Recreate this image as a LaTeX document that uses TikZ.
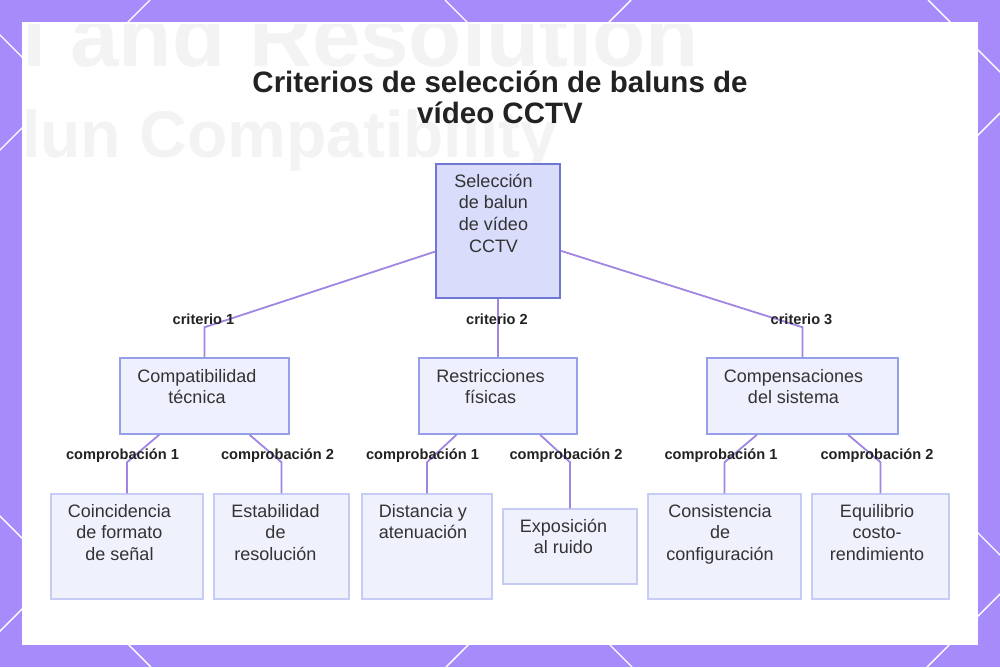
\documentclass[tikz,border=0pt]{standalone}
\usepackage{fontspec}
\setmainfont{Liberation Sans}
\usetikzlibrary{calc}
\definecolor{bgpurple}{RGB}{167,139,250}
\definecolor{rootfill}{RGB}{217,220,251}
\definecolor{rootdraw}{RGB}{112,118,212}
\definecolor{midfill}{RGB}{238,240,253}
\definecolor{middraw}{RGB}{150,160,232}
\definecolor{leaffill}{RGB}{239,241,253}
\definecolor{leafdraw}{RGB}{198,204,246}
\definecolor{edgecol}{RGB}{160,134,226}
\definecolor{txtcol}{RGB}{51,51,51}
\definecolor{lblcol}{RGB}{34,34,34}
\definecolor{fainttxt}{RGB}{243,243,243}
\newcommand\fstA{\rule{0pt}{18pt}}
\newcommand\fstT{\rule{0pt}{30pt}}
\tikzset{
  edge/.style={draw=edgecol, line width=1.8pt},
  rootbox/.style={draw=rootdraw, fill=rootfill, line width=1.5pt, inner sep=0pt},
  midbox/.style={draw=middraw, fill=midfill, line width=1.5pt, inner sep=0pt},
  leafbox/.style={draw=leafdraw, fill=leaffill, line width=1.5pt, inner sep=0pt},
  boxtxt/.style={anchor=north, align=center, inner sep=0pt, text=txtcol, font=\fontsize{18}{21.7}\selectfont},
  lbl/.style={anchor=base, inner sep=0pt, text=lblcol, font=\fontsize{14.6}{16}\selectfont\bfseries},
  titletxt/.style={anchor=north, align=center, inner sep=0pt, text=lblcol, font=\fontsize{29.5}{31}\selectfont\bfseries},
  faint/.style={anchor=base west, inner sep=0pt, text=fainttxt, font=\bfseries}
}
\begin{document}
\begin{tikzpicture}[x=1pt,y=-1pt]
\useasboundingbox (0,0) rectangle (1000,667);
\begin{scope}
\clip (0,0) rectangle (1000,667);
\fill[bgpurple] (0,0) rectangle (1000,667);
\foreach \c in {-516,-35,445,928} \draw[white, line width=1.4pt] (\c,0) -- ({\c+667},667);
\foreach \c in {150,631,1113,1594} \draw[white, line width=1.4pt] (\c,0) -- ({\c-667},667);
\fill[white] (22,22) rectangle (978,645);
\end{scope}
\begin{scope}
\clip (22,24) rectangle (978,645);
\node[faint, font=\fontsize{87}{87}\selectfont\bfseries] (bg1) at (22,66) {l and Resolution};
\node[faint, font=\fontsize{66}{66}\selectfont\bfseries] (bg2) at (22,157) {lun Compatibility};
\end{scope}

\node[titletxt] (title) at (500,62) {\fstT Criterios de selección de baluns de\\vídeo CCTV};

% boxes
\node[rootbox, minimum width=124, minimum height=134] (root) at (498,231) {};
\node[midbox, minimum width=169, minimum height=76] (compat) at (204.5,396) {};
\node[midbox, minimum width=158, minimum height=76] (restr) at (498,396) {};
\node[midbox, minimum width=191, minimum height=76] (compens) at (802.5,396) {};
\node[leafbox, minimum width=152, minimum height=105] (coinc) at (127,546.5) {};
\node[leafbox, minimum width=135, minimum height=105] (estab) at (281.5,546.5) {};
\node[leafbox, minimum width=130, minimum height=105] (dist) at (427,546.5) {};
\node[leafbox, minimum width=134, minimum height=75] (expo) at (570,546.5) {};
\node[leafbox, minimum width=153, minimum height=105] (consist) at (724.5,546.5) {};
\node[leafbox, minimum width=137, minimum height=105] (equil) at (880.5,546.5) {};

% edges
\draw[edge] (compat.north) -- ++(0,-30) coordinate (b1) -- (root);
\draw[edge] (restr.north) -- ++(0,-30) coordinate (b2) -- (root);
\draw[edge] (compens.north) -- ++(0,-30) coordinate (b3) -- (root);
\draw[edge] (coinc.north) -- ++(0,-31) coordinate (c1) -- (compat);
\draw[edge] (estab.north) -- ++(0,-31) coordinate (c2) -- (compat);
\draw[edge] (dist.north) -- ++(0,-31) coordinate (c3) -- (restr);
\draw[edge] (expo.north) -- ++(0,-46) coordinate (c4) -- (restr);
\draw[edge] (consist.north) -- ++(0,-31) coordinate (c5) -- (compens);
\draw[edge] (equil.north) -- ++(0,-31) coordinate (c6) -- (compens);

% labels
\node[lbl] (l1) at ($(b1)+(-1,-3)$) {criterio 1};
\node[lbl] (l2) at ($(b2)+(-1,-3)$) {criterio 2};
\node[lbl] (l3) at ($(b3)+(-1,-3)$) {criterio 3};
\node[lbl] (m1) at ($(c1)+(-4.5,-3)$) {comprobación 1};
\node[lbl] (m2) at ($(c2)+(-4,-3)$) {comprobación 2};
\node[lbl] (m3) at ($(c3)+(-4.5,-3)$) {comprobación 1};
\node[lbl] (m4) at ($(c4)+(-4,-3)$) {comprobación 2};
\node[lbl] (m5) at ($(c5)+(-3.5,-3)$) {comprobación 1};
\node[lbl] (m6) at ($(c6)+(-3.5,-3)$) {comprobación 2};

% box texts
\node[boxtxt] (rootT) at (493.5,169) {\fstA Selección\\de balun\\de vídeo\\CCTV};
\node[boxtxt] (compatT) at (197,364) {\fstA Compatibilidad\\técnica};
\node[boxtxt] (restrT) at (490.5,364) {\fstA Restricciones\\físicas};
\node[boxtxt] (compensT) at (793.5,364) {\fstA Compensaciones\\del sistema};
\node[boxtxt] (coincT) at (119.5,499) {\fstA Coincidencia\\de formato\\de señal};
\node[boxtxt] (estabT) at (275.5,499) {\fstA Estabilidad\\de\\resolución};
\node[boxtxt] (distT) at (423,499) {\fstA Distancia y\\atenuación};
\node[boxtxt] (expoT) at (563.5,514) {\fstA Exposición\\al ruido};
\node[boxtxt] (consistT) at (720,499) {\fstA Consistencia\\de\\configuración};
\node[boxtxt] (equilT) at (877,499) {\fstA Equilibrio\\costo-\\rendimiento};
\end{tikzpicture}
\end{document}
